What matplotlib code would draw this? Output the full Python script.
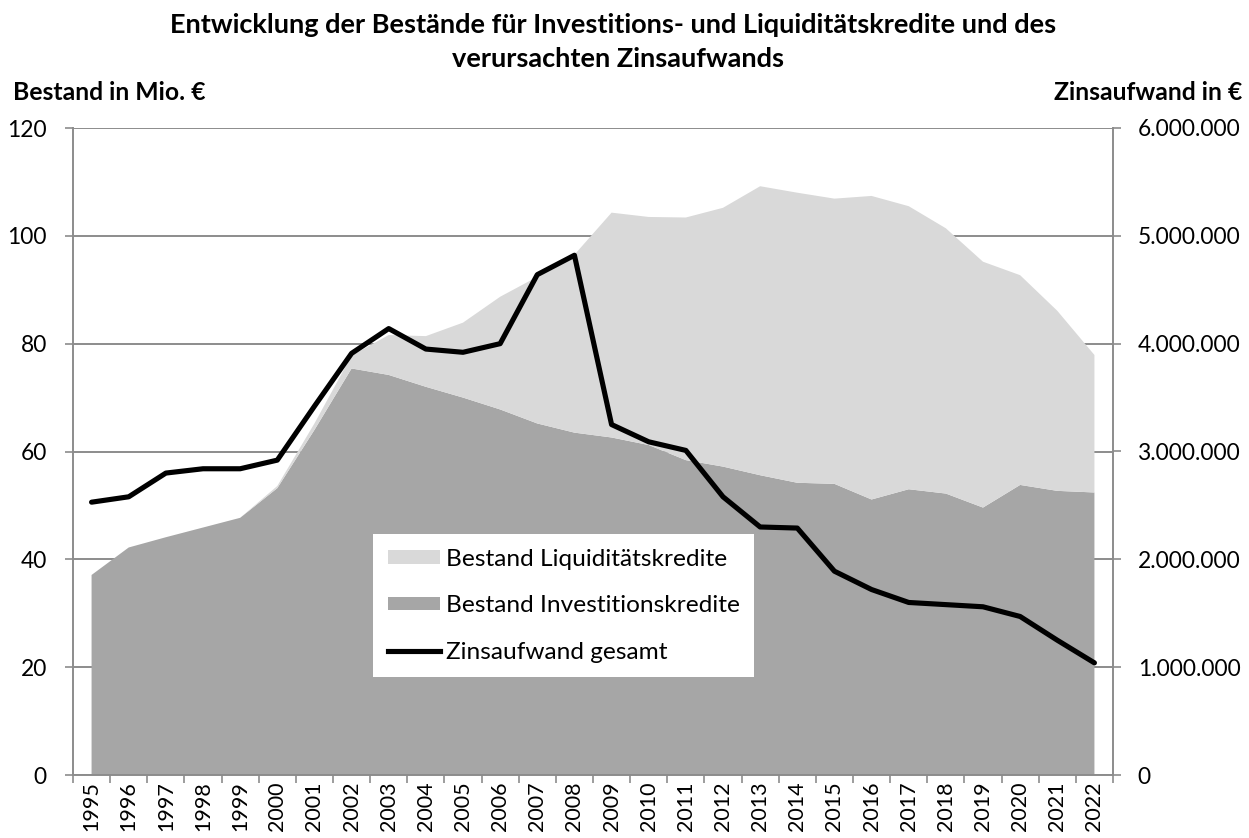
import numpy as np
import matplotlib
matplotlib.use("Agg")
import matplotlib.pyplot as plt
from matplotlib.ticker import FuncFormatter, FixedLocator
from matplotlib.patches import Patch
from matplotlib.lines import Line2D

# ---------------- data ----------------
years = [str(y) for y in range(1995, 2023)]
invest = [37.1, 42.2, 44.1, 45.9, 47.7, 53.2, 64.0, 75.4, 74.2, 72.0, 70.0, 67.8, 65.2, 63.5,
          62.6, 61.2, 58.4, 57.2, 55.6, 54.2, 54.0, 51.1, 53.0, 52.2, 49.6, 53.8, 52.7, 52.4]
liquid = [0, 0, 0, 0, 0, 0.4, 1.2, 2.4, 7.4, 9.4, 13.9, 20.9, 27.2, 33.0,
          41.7, 42.3, 45.0, 48.0, 53.6, 53.8, 52.9, 56.3, 52.5, 49.2, 45.6, 38.9, 33.4, 25.5]
zins = [2530000, 2580000, 2800000, 2840000, 2840000, 2920000, 3420000, 3910000, 4140000,
        3950000, 3920000, 4000000, 4640000, 4820000, 3250000, 3090000, 3010000, 2580000,
        2300000, 2290000, 1890000, 1720000, 1600000, 1580000, 1560000, 1470000, 1250000,
        1040000]
left_ticks = [0, 20, 40, 60, 80, 100, 120]
right_ticks = [0, 1000000, 2000000, 3000000, 4000000, 5000000, 6000000]

title1 = "Entwicklung der Bestände für Investitions- und Liquiditätskredite und des"
title2 = "verursachten Zinsaufwands"
ylab_left = "Bestand in Mio. €"
ylab_right = "Zinsaufwand in €"
lab_liq = "Bestand Liquiditätskredite"
lab_inv = "Bestand Investitionskredite"
lab_zins = "Zinsaufwand gesamt"

# ---------------- style ----------------
FONT = "Lato"
W, H = 1249, 838
C_LIGHT = "#D9D9D9"
C_DARK = "#A6A6A6"
C_GRID = "#8C8C8C"

plt.rcParams["font.family"] = [FONT, "DejaVu Sans"]

fig = plt.figure(figsize=(W / 100, H / 100), dpi=100)
renderer = fig.canvas.get_renderer()


def fit(t, target_px):
    w = t.get_window_extent(renderer).width
    t.set_fontsize(t.get_fontsize() * target_px / w)
    return t.get_fontsize()


def size_for(text, target_px, weight="normal"):
    t = fig.text(0, 0, text, fontsize=10, weight=weight)
    fs = fit(t, target_px)
    t.remove()
    return fs


AX_L, AX_R, AX_T, AX_B = 73, 1113, 128, 775
ax = fig.add_axes([AX_L / W, 1 - AX_B / H, (AX_R - AX_L) / W, (AX_B - AX_T) / H])
x = np.arange(len(years))

ax.stackplot(x, invest, liquid, colors=[C_DARK, C_LIGHT], linewidth=0, zorder=2)
ax.set_xlim(-0.5, len(years) - 0.5)
ax.set_ylim(0, 120)
ax.set_axisbelow(True)
ax.yaxis.grid(True, color=C_GRID, linewidth=1.4, zorder=0)
ax.yaxis.set_major_locator(FixedLocator(left_ticks))

tick_fs = size_for("100", 39.5)
xtick_fs = size_for("1995", 50)
ax.set_xticks(x)
ax.set_xticklabels(years, rotation=90, fontsize=xtick_fs)
ax.xaxis.set_minor_locator(FixedLocator(np.arange(-0.5, len(years), 1.0)))
ax.tick_params(axis="x", which="major", length=0, pad=4.5)
ax.tick_params(axis="x", which="minor", length=5.5, width=1.2, color=C_GRID)
ax.tick_params(axis="y", length=5.8, width=1.2, color=C_GRID, pad=13, labelsize=tick_fs)

for s in ["top", "right"]:
    ax.spines[s].set_visible(False)
for s in ["left", "bottom"]:
    ax.spines[s].set_color(C_GRID)
    ax.spines[s].set_linewidth(1.4)

ax2 = ax.twinx()
ax2.plot(x, zins, color="black", linewidth=3.7, solid_joinstyle="round",
         solid_capstyle="round", zorder=5)
ax2.set_ylim(0, 6000000)
ax2.yaxis.set_major_locator(FixedLocator(right_ticks))
ax2.yaxis.set_major_formatter(FuncFormatter(lambda v, p: f"{v:,.0f}".replace(",", ".")))
ax2.tick_params(axis="y", length=5.8, width=1.2, color=C_GRID, pad=12, labelsize=tick_fs)
for s in ["top", "left", "bottom"]:
    ax2.spines[s].set_visible(False)
ax2.spines["right"].set_color(C_GRID)
ax2.spines["right"].set_linewidth(1.4)

# ---------------- titles ----------------
t1 = fig.text(613.5 / W, 1 - 33.3 / H, title1, ha="center", va="baseline",
              fontsize=16, weight="bold")
tfs = fit(t1, 891)
fig.text(617.5 / W, 1 - 66.7 / H, title2, ha="center", va="baseline",
         fontsize=tfs, weight="bold")

tl = fig.text(13 / W, 1 - 100 / H, ylab_left, ha="left", va="baseline",
              fontsize=16, weight="bold")
fit(tl, 193)
tr = fig.text(1242 / W, 1 - 100 / H, ylab_right, ha="right", va="baseline",
              fontsize=16, weight="bold")
fit(tr, 189)

# ---------------- legend ----------------
leg_fs = size_for(lab_liq, 281)
fs_px = leg_fs * 100 / 72
handles = [Patch(facecolor=C_LIGHT, edgecolor="none", label=lab_liq),
           Patch(facecolor=C_DARK, edgecolor="none", label=lab_inv),
           Line2D([0], [0], color="black", linewidth=3.7, label=lab_zins)]
leg = ax2.legend(handles=handles, loc="upper left",
                 bbox_to_anchor=(373 / W, 1 - 534 / H), bbox_transform=fig.transFigure,
                 borderaxespad=0, fontsize=leg_fs, frameon=True, fancybox=False,
                 handlelength=52 / fs_px, handleheight=11 / fs_px,
                 handletextpad=6 / fs_px, labelspacing=1.05, borderpad=0.6)
leg.get_frame().set_facecolor("white")
leg.get_frame().set_edgecolor("none")
leg.get_frame().set_alpha(1)
leg.set_zorder(10)

fig.savefig("out.png", dpi=100)
